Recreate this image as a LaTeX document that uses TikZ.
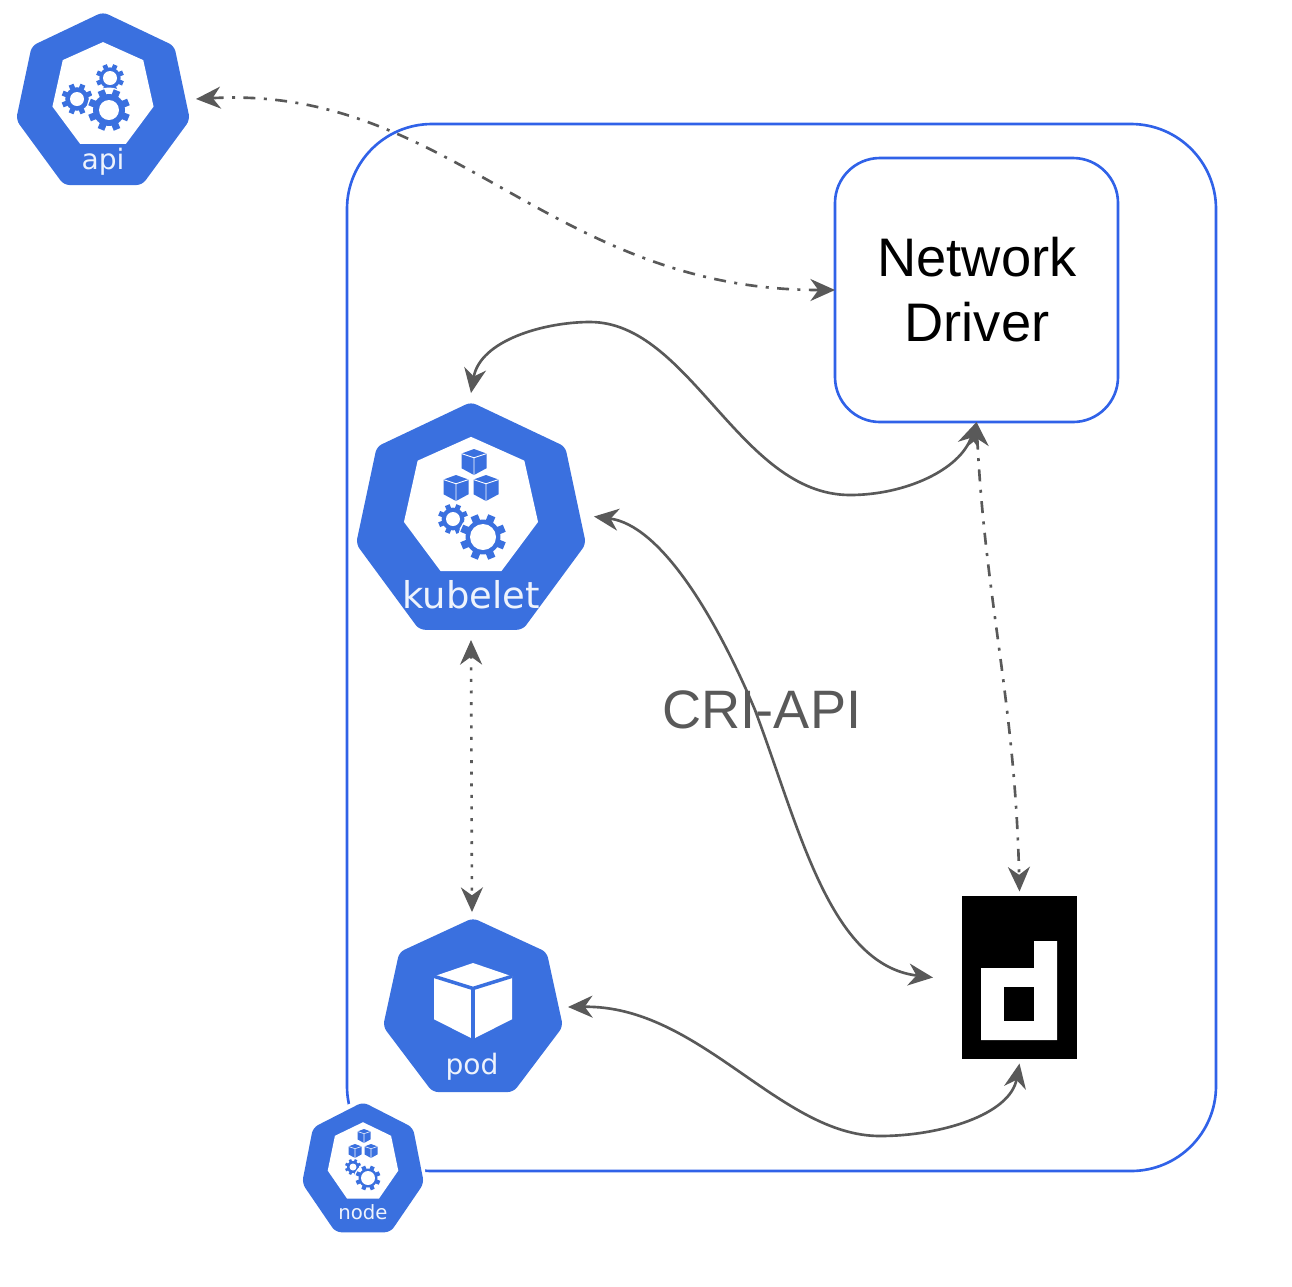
\documentclass[tikz,border=0pt]{standalone}
\usepackage{fontspec}
\setmainfont{Liberation Sans}
\newfontfamily\iconfont{DejaVu Sans}
\usetikzlibrary{arrows.meta}
\pgfdeclarelayer{background}
\pgfsetlayers{background,main}
\definecolor{k8s}{HTML}{3A70DF}
\definecolor{frameblue}{HTML}{3062E8}
\definecolor{wire}{HTML}{595959}
\definecolor{iconwhite}{HTML}{EEF3FC}
\tikzstyle{frame} = [draw=frameblue, line width=1.5pt, fill=white]
\tikzstyle{iconbox} = [rectangle, inner sep=0pt, outer sep=0pt]
\tikzstyle{iconlabel} = [anchor=base, text=iconwhite, inner sep=0pt, font=\iconfont]
\tikzstyle{line} = [draw=wire, line width=1.5pt,
    {Stealth[length=14pt,width=12.5pt,inset=4.5pt]}-{Stealth[length=14pt,width=12.5pt,inset=4.5pt]}]
\tikzstyle{dashline} = [line, dash pattern=on 6.8pt off 4.8pt on 1.7pt off 4.8pt]
\tikzstyle{dotline} = [line, dash pattern=on 1.7pt off 4.9pt]
% x, y of the top corner, width, height
\newcommand{\heptagon}[4]{%
  \begin{scope}[shift={(#1,#2)}, x=#3*0.02cm, y=-#4*0.02cm]
    \fill[k8s, draw=k8s, line width=1pt, rounded corners=3pt]
      (0,0) -- (.41,.195) -- (.5,.62) -- (.225,.995) -- (-.225,.995) -- (-.5,.62) -- (-.41,.195) -- cycle;
  \end{scope}}
% the white inner face, #5 moves it down
\newcommand{\heptface}[5]{%
  \begin{scope}[shift={(#1,#2)}, x=#3*0.02cm, y=-#4*0.02cm]
    \fill[white] (0,.149+#5) -- (.234,.254+#5) -- (.294,.524+#5) -- (.133,.741+#5)
      -- (-.133,.741+#5) -- (-.294,.524+#5) -- (-.234,.254+#5) -- cycle;
  \end{scope}}
% x, y, outer radius, hole radius
\newcommand{\gear}[4]{%
  \begin{scope}[shift={(#1,#2)}]
    \fill[white] (0,0) circle (#3+1.5);
    \foreach \a in {0,45,...,315}
      \draw[k8s, line width=#3*0.19pt] (\a+22.5:#3*0.6) -- (\a+22.5:#3);
    \fill[k8s] (0,0) circle (#3*0.76);
    \fill[white] (0,0) circle (#4);
  \end{scope}}
% x, y, half width, half height, face, edges, edge width
\newcommand{\cube}[7]{%
  \begin{scope}[shift={(#1,#2)}, x=#3*0.02cm, y=#4*-0.02cm]
    \fill[#5] (0,-1) -- (1,-.65) -- (1,.48) -- (0,1) -- (-1,.48) -- (-1,-.65) -- cycle;
    \draw[#6, line width=#7] (-1,-.65) -- (0,-.33) -- (1,-.65) (0,-.33) -- (0,1);
  \end{scope}}

\begin{document}
\begin{tikzpicture}[x=0.02cm, y=-0.02cm]
        \useasboundingbox (0,0) rectangle (1292,1286);

        % Place nodes
        \node [iconbox, minimum width=3.72cm, minimum height=3.44cm] (api) at (103,99) {};
        \node [iconbox, minimum width=4.92cm, minimum height=4.94cm] (kubelet) at (471,516.5) {};
        \node [iconbox, minimum width=3.84cm, minimum height=3.8cm] (pod) at (472,1007) {};
        \node [iconbox, minimum width=3.46cm, minimum height=3.44cm] (docker) at (1019.5,977.5) {};

        % Network driver box
        \draw [frame, rounded corners=0.9cm] (835,158) rectangle (1118,422);
        \node [iconbox, minimum width=5.66cm, minimum height=5.28cm] (driver) at (976.5,290) {};
        \node [inner sep=0pt, align=center, font=\fontsize{30.9pt}{37pt}\selectfont] (driverlabel) at (977,290) {Network\\Driver};

        % api icon
        \heptagon{103}{13}{172}{172}
        \heptface{103}{13}{172}{172}{.02}
        \gear{77}{99}{15.5}{7}
        \gear{110}{78}{14}{7}
        \gear{109}{110}{21}{10}
        \node [iconlabel, font=\iconfont\fontsize{16pt}{16pt}\selectfont] (apilabel) at (103,169) {api};

        % kubelet icon
        \heptagon{471}{403}{228}{227}
        \heptface{471}{403}{228}{227}{0}
        \cube{474}{462}{12.5}{13}{k8s}{white}{0.5pt}
        \cube{456}{488}{12.5}{13}{k8s}{white}{0.5pt}
        \cube{486}{488}{12.5}{13}{k8s}{white}{0.5pt}
        \gear{453}{519}{15}{7}
        \gear{483}{537}{23}{13}
        \node [iconlabel, font=\iconfont\fontsize{21pt}{21pt}\selectfont] (kubeletlabel) at (471,608) {kubelet};

        % pod icon
        \heptagon{473}{919}{178}{173}
        \cube{473}{1001}{39}{38}{white}{k8s}{2pt}
        \node [iconlabel, font=\iconfont\fontsize{16pt}{16pt}\selectfont] (podlabel) at (472,1074) {pod};

        % docker logo
        \fill [black] (962,896) rectangle (1077,1059);
        \fill [white] (981,968) -- (1034,968) -- (1034,941) -- (1057,941) -- (1057,1040) -- (981,1040) -- cycle;
        \fill [black] (1004,987) rectangle (1034,1021);

        % Draw edges
        \path [dashline] (api.east) .. controls (450,85) and (550,290) .. (driver.west);
        \path [line] (kubelet.north) .. controls (480,340) and (545,322) .. (590,322)
              .. controls (690,322) and (740,495) .. (850,495)
              .. controls (905,495) and (960,470) .. (driver.south);
        \path [line] (kubelet.east) .. controls (660,525) and (715,615) .. (755,710)
              .. controls (800,830) and (830,965) .. (docker.west);
        \path [line] (pod.east) .. controls (700,1005) and (780,1136) .. (880,1136)
              .. controls (940,1136) and (1010,1115) .. (docker.south);
        \path [dashline] (driver.south) .. controls (985,600) and (1015,700) .. (docker.north);
        \path [dotline] (kubelet.south) -- (pod.north);
        \node [inner sep=0pt, text=wire, anchor=base, font=\fontsize{30.8pt}{30.8pt}\selectfont] (criapi) at (762,728) {CRI-API};

        % Node frame goes behind everything, node icon cuts it
        \begin{pgfonlayer}{background}
          \draw [frame, rounded corners=1.7cm] (347,124) rectangle (1216,1171);
        \end{pgfonlayer}
        \fill [white] (363,1098) -- (418,1122) -- (427,1184) -- (392,1238) -- (334,1238) -- (299,1184) -- (308,1122) -- cycle;
        \heptagon{363}{1103}{120}{129}
        \heptface{363}{1103}{120}{129}{0}
        \cube{364}{1136}{6.5}{7}{k8s}{white}{0.3pt}
        \cube{355}{1151}{6.5}{7}{k8s}{white}{0.3pt}
        \cube{371}{1151}{6.5}{7}{k8s}{white}{0.3pt}
        \gear{353}{1167}{8}{3.5}
        \gear{368}{1178}{12.5}{7}
        \node [iconlabel, font=\iconfont\fontsize{11.2pt}{11.2pt}\selectfont] (nodelabel) at (363,1219) {node};
\end{tikzpicture}
\end{document}
